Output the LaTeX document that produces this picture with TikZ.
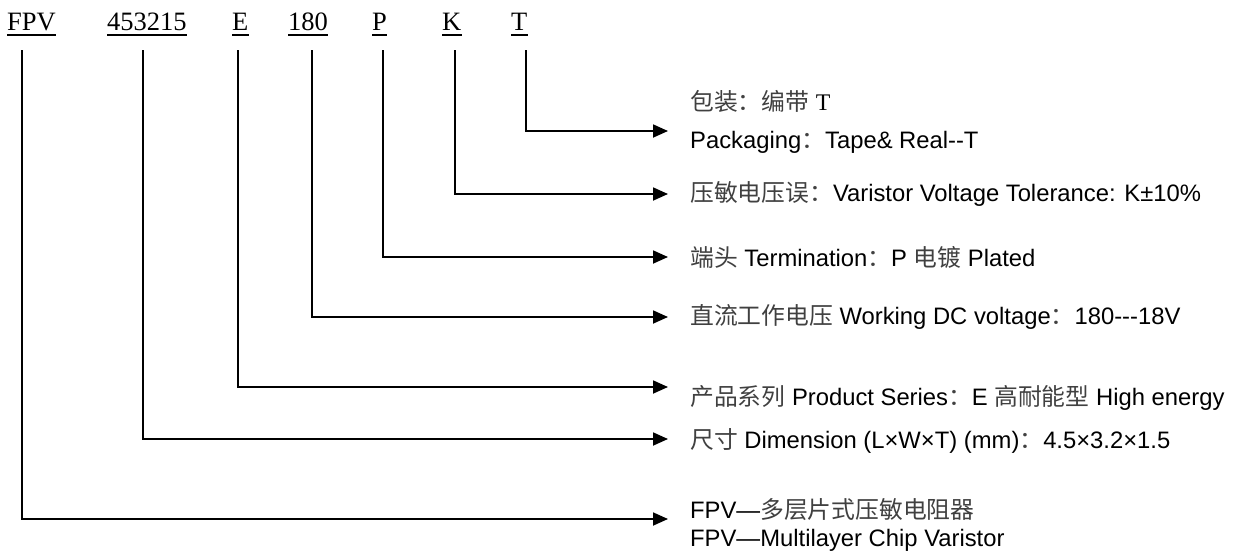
\documentclass[tikz,border=0pt]{standalone}
\usepackage{fontspec}
\setmainfont{Liberation Sans}
\newfontfamily\cjk{Noto Sans CJK SC}
\newfontfamily\serifl{Liberation Serif}
\usetikzlibrary{arrows.meta}
\newcommand\zh[1]{{\cjk\color{black!75}#1}}
\begin{document}
\begin{tikzpicture}[x=1pt,y=-1pt,
  code/.style={anchor=base west, inner sep=0pt, font=\serifl\fontsize{26.5}{30}\selectfont},
  desc/.style={anchor=west, inner sep=0pt, align=left, font=\fontsize{23.8}{28}\selectfont},
  conn/.style={line width=1.8pt, -{Triangle[length=15pt,width=13pt]}, shorten >=22pt},
  uline/.style={line width=1.5pt}]
\useasboundingbox (0,0) rectangle (1235,555);

% code labels
\node[code] (cF) at (7,30) {FPV};
\node[code] (cD) at (107,30) {453215};
\node[code] (cE) at (232,30) {E};
\node[code] (c180) at (288,30) {180};
\node[code] (cP) at (372,30) {P};
\node[code] (cK) at (442,30) {K};
\node[code] (cT) at (511,30) {T};
\foreach \n in {cF,cD,cE,c180,cP,cK,cT}
  \draw[uline] ([yshift=-5pt]\n.base west) -- ([yshift=-5pt]\n.base east);

% start points
\coordinate (sF) at (22,50);
\coordinate (sD) at (143,50);
\coordinate (sE) at (238,50);
\coordinate (s180) at (312,50);
\coordinate (sP) at (383,50);
\coordinate (sK) at (455,50);
\coordinate (sT) at (526,50);

% descriptions
\node[desc] (dT) at (690,122) {\zh{包装：编带}\ {\serifl T}\\[10pt]Packaging\zh{：}Tape\& Real-{}-T};
\node[desc] (dK) at (690,194) {\zh{压敏电压误：}Varistor Voltage Tolerance: K±10\%};
\node[desc] (dP) at (690,257) {\zh{端头} Termination\zh{：}P \zh{电镀} Plated};
\node[desc] (d180) at (690,317) {\zh{直流工作电压} Working DC voltage\zh{：}180-{}-{}-18V};
\node[desc] (dE) at (690,398) {\zh{产品系列} Product Series\zh{：}E \zh{高耐能型} High energy};
\node[desc] (dD) at (690,441) {\zh{尺寸} Dimension (L×W×T) (mm)\zh{：}4.5×3.2×1.5};
\node[desc] (dF) at (690,525) {FPV—\zh{多层片式压敏电阻器}\\FPV—Multilayer Chip Varistor};

% connectors
\draw[conn] (sT) |- ([yshift=-9pt]dT.west);
\draw[conn] (sK) |- (dK.west);
\draw[conn] (sP) |- (dP.west);
\draw[conn] (s180) |- (d180.west);
\draw[conn] (sE) |- ([yshift=11pt]dE.west);
\draw[conn] (sD) |- ([yshift=2pt]dD.west);
\draw[conn] (sF) |- ([yshift=6pt]dF.west);
\end{tikzpicture}
\end{document}
